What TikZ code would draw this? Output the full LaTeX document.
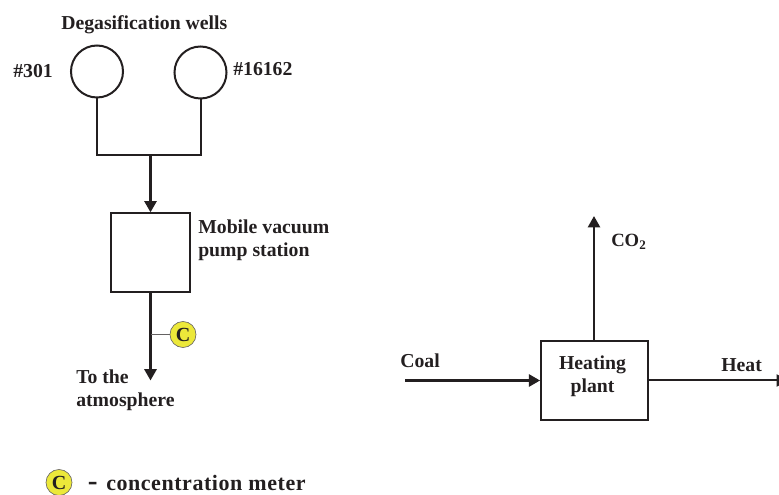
\documentclass[tikz,border=0pt]{standalone}
\usepackage{fontspec}
\setmainfont{Liberation Serif}
\usetikzlibrary{calc,arrows.meta}

\definecolor{inkdark}{HTML}{231F20}
\definecolor{meteryellow}{HTML}{ECE83A}

\begin{document}
\begin{tikzpicture}[x=0.75pt,y=-0.75pt,
    lbl/.style={font=\fontsize{14.8pt}{16.9pt}\selectfont\bfseries,text=inkdark,inner sep=0pt,align=left},
    well/.style={circle,draw=inkdark,line width=1.5pt,minimum size=39pt,inner sep=0pt},
    unitbox/.style={rectangle,draw=inkdark,line width=1.5pt,inner sep=0pt},
    meter/.style={circle,draw=inkdark!70,line width=0.5pt,fill=meteryellow,minimum size=19.5pt,inner sep=0pt,
      font=\fontsize{15pt}{15pt}\selectfont\bfseries,text=inkdark},
    flow/.style={draw=inkdark,line width=2.2pt,-{Triangle[length=8.5pt,width=9pt]}},
    pipe/.style={draw=inkdark,line width=1.5pt}]
  \useasboundingbox (0,0) rectangle (779,495);

  % the two wells and their manifold
  \node[well] (wellA) at (97,71.5) {};
  \node[well] (wellB) at (200.5,72.5) {};
  \node[lbl,anchor=west] (wellsTitle) at (61,24.5) {Degasification wells};
  \node[lbl,anchor=west] (wellAName) at (13,71.5) {\#301};
  \node[lbl,anchor=west] (wellBName) at (233,69.5) {\#16162};
  \coordinate (merge) at (150.5,155.5);
  \draw[pipe] (wellA.south) |- (merge) -| (wellB.south);

  % pump station
  \node[unitbox,minimum width=59pt,minimum height=59pt] (pump) at (150.5,252.7) {};
  \node[lbl,anchor=north west] (pumpName) at (198,220) {Mobile vacuum\\pump station};
  \draw[flow] (merge) -- (pump.north);

  % out to the atmosphere, with the meter on it
  \coordinate (vent) at (150.5,380.5);
  \draw[flow] (pump.south) -- (vent);
  \node[meter] (meterC) at (183,334.5) {C};
  \draw[draw=inkdark!70,line width=0.7pt] (meterC.west) -- (151,334.5);
  \node[lbl,anchor=north west] (ventName) at (76,370) {To the\\atmosphere};

  % legend
  \node[meter] (legendC) at (59,482.5) {C};
  \node[lbl,anchor=west,font=\fontsize{22pt}{22pt}\selectfont\bfseries] (legendDash) at (87.5,486) {-};
  \node[lbl,anchor=west,font=\fontsize{16.5pt}{16.5pt}\selectfont\bfseries\addfontfeatures{LetterSpace=2.5}] (legendName) at (106,482.5) {concentration meter};

  % heating plant
  \node[unitbox,minimum width=80pt,minimum height=59pt] (plant) at (594.5,380.5) {};
  \node[lbl,align=center] (plantName) at (592.5,376) {Heating\\plant};
  \coordinate (coalIn) at (405,380.5);
  \coordinate (smoke) at (594,216);
  \coordinate (heatOut) at (788,380.5);
  \draw[flow] (coalIn) -- (plant.west);
  \draw[flow,line width=1.8pt] (plant.north -| smoke) -- (smoke);
  \draw[flow,line width=1.5pt] (plant.east) -- (heatOut);
  \node[lbl,anchor=west] (coalName) at (400,361) {Coal};
  \node[lbl,anchor=west,font=\fontsize{14pt}{16pt}\selectfont\bfseries] (smokeName) at (611,242) {CO\textsubscript{2}};
  \node[lbl,anchor=west] (heatName) at (721,365) {Heat};
\end{tikzpicture}
\end{document}
